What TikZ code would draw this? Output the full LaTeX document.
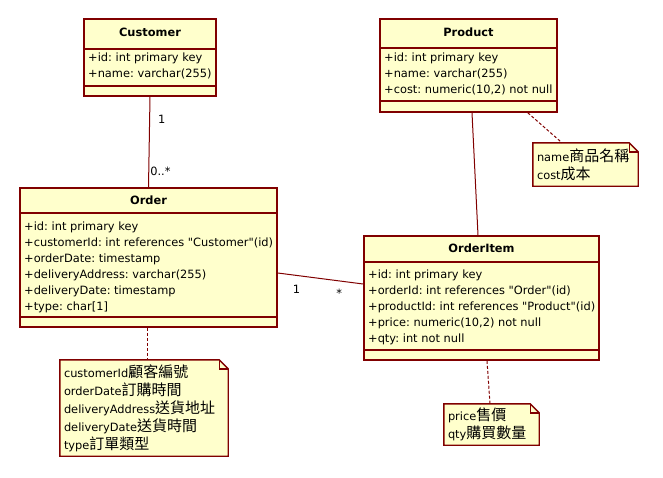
\documentclass[tikz,border=0pt]{standalone}
\usepackage{fontspec}
\setmainfont{DejaVu Sans}[Ligatures=TeXOff]
\newfontfamily\cjkfont{Noto Sans CJK TC}
\usetikzlibrary{positioning,backgrounds}

\definecolor{umlred}{RGB}{128,0,0}
\definecolor{umlyellow}{RGB}{255,255,204}
\newcommand{\zh}[1]{{\fontsize{15}{18}\cjkfont #1}}
\frenchspacing

\begin{document}
\begin{tikzpicture}[x=1pt,y=-1pt,
  every node/.style={font=\fontsize{11.4}{16}\selectfont,inner sep=0pt},
  classbox/.style={draw=umlred,fill=umlyellow,line width=1.6pt},
  classsep/.style={draw=umlred,line width=1.6pt},
  classhead/.style={font=\fontsize{11.4}{16}\selectfont\bfseries},
  classattr/.style={align=left,anchor=west},
  notebox/.style={align=left,inner xsep=4pt,font=\fontsize{11.4}{18}\selectfont},
  noteline/.style={draw=umlred,fill=umlyellow,line width=1.4pt},
  assoc/.style={draw=umlred,line width=1pt},
  anchorline/.style={draw=umlred,line width=1pt,dash pattern=on 3pt off 2pt}]
\useasboundingbox (0,0) rectangle (663,477);
% Customer
\node [classbox,minimum width=132,minimum height=77] (customer) at (150,57.5) {};
\node [classhead] (customerhead) at (150,32) {Customer};
\draw [classsep] (84,49) -- (216,49);
\draw [classsep] (84,86) -- (216,86);
\node [classattr] (customerattr) at (88,66) {+id: int primary key\\+name: varchar(255)};
% Product
\node [classbox,minimum width=177,minimum height=93] (product) at (468.5,65.5) {};
\node [classhead] (producthead) at (468.5,32) {Product};
\draw [classsep] (380,48) -- (557,48);
\draw [classsep] (380,101) -- (557,101);
\node [classattr] (productattr) at (384,74) {+id: int primary key\\+name: varchar(255)\\+cost: numeric(10,2) not null};
% Order
\node [classbox,minimum width=257,minimum height=139] (order) at (148.5,257.5) {};
\node [classhead] (orderhead) at (148.5,200) {Order};
\draw [classsep] (20,213) -- (277,213);
\draw [classsep] (20,317) -- (277,317);
\node [classattr] (orderattr) at (24,267) {+id: int primary key\\+customerId: int references "Customer"(id)\\+orderDate: timestamp\\+deliveryAddress: varchar(255)\\+deliveryDate: timestamp\\+type: char[1]};
% OrderItem
\node [classbox,minimum width=235,minimum height=124] (orderitem) at (481.5,298) {};
\node [classhead] (orderitemhead) at (481.5,248) {OrderItem};
\draw [classsep] (364,262) -- (599,262);
\draw [classsep] (364,350) -- (599,350);
\node [classattr] (orderitemattr) at (368,307) {+id: int primary key\\+orderId: int references "Order"(id)\\+productId: int references "Product"(id)\\+price: numeric(10,2) not null\\+qty: int not null};
% notes
\node [notebox,text width=160,minimum height=96] (ordernote) at (144,408) {customerId\zh{顧客編號}\\orderDate\zh{訂購時間}\\deliveryAddress\zh{送貨地址}\\deliveryDate\zh{送貨時間}\\type\zh{訂單類型}};
\node [notebox,text width=87,minimum height=41] (pricenote) at (491.5,424.5) {price\zh{售價}\\qty\zh{購買數量}};
\node [notebox,text width=97,minimum height=43] (namenote) at (585.5,164.5) {name\zh{商品名稱}\\cost\zh{成本}};
\begin{scope}[on background layer]
\foreach \n in {ordernote,pricenote,namenote} {
  \draw [noteline] (\n.north west) -- ([xshift=-9pt]\n.north east) -- ([yshift=-9pt]\n.north east) -- (\n.south east) -- (\n.south west) -- cycle;
  \draw [noteline,fill=none] ([xshift=-9pt]\n.north east) |- ([yshift=-9pt]\n.north east);
}
\end{scope}
% associations
\draw [assoc] (customer.south) -- node [pos=0.25,right=8pt] (custone) {1} node [pos=0.83,right=1pt] (custmany) {0..*} (order.north);
\draw [assoc] ([yshift=-15.5pt]order.east) -- node [pos=0.22,below=9pt] (orderone) {1} node [pos=0.72,below=8pt] (ordermany) {*} ([yshift=14pt]orderitem.west);
\draw [assoc] ([xshift=3.5pt]product.south) -- ([xshift=-3.5pt]orderitem.north);
% note anchors
\draw [anchorline] ([xshift=-1.5pt]order.south) -- ([xshift=3pt]ordernote.north);
\draw [anchorline] ([xshift=5.5pt]orderitem.south) -- ([xshift=-1.5pt]pricenote.north);
\draw [anchorline] ([xshift=-30pt]product.south east) -- ([xshift=-23.5pt]namenote.north);
\end{tikzpicture}
\end{document}
